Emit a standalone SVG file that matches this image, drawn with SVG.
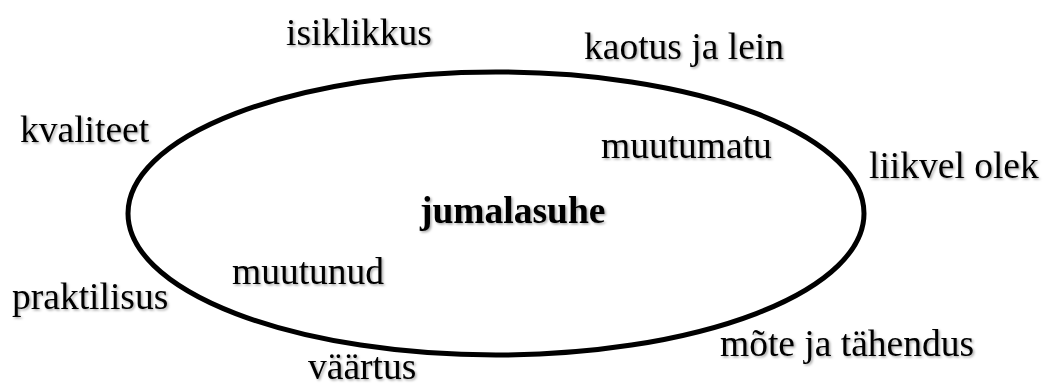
<svg xmlns="http://www.w3.org/2000/svg" width="1045" height="387" viewBox="0 0 1045 387">
  <defs>
    <filter id="sh" x="-10%" y="-30%" width="130%" height="180%">
      <feDropShadow dx="1.5" dy="1.5" stdDeviation="1" flood-color="#000" flood-opacity="0.35"/>
    </filter>
    <style>
      .t { font-family: "Liberation Serif", "Times New Roman", serif; font-size: 37.5px; fill: #000; filter: url(#sh); }
      .b { font-weight: bold; }
      .ell { fill: none; stroke: #000; stroke-width: 5; }
    </style>
  </defs>
  <rect width="1045" height="387" fill="#fff"/>
  <g id="ellipse">
    <ellipse class="ell" cx="496" cy="213.5" rx="368" ry="141.5"/>
  </g>
  <g id="connectors"></g>
  <g id="n-jumalasuhe"><text class="t b" x="420" y="223">jumalasuhe</text></g>
  <g id="n-isiklikkus"><text class="t" x="286" y="45">isiklikkus</text></g>
  <g id="n-kaotus"><text class="t" x="584" y="59">kaotus ja lein</text></g>
  <g id="n-kvaliteet"><text class="t" x="20" y="142">kvaliteet</text></g>
  <g id="n-muutumatu"><text class="t" x="601" y="158">muutumatu</text></g>
  <g id="n-liikvel"><text class="t" x="869" y="178">liikvel olek</text></g>
  <g id="n-muutunud"><text class="t" x="232" y="284">muutunud</text></g>
  <g id="n-praktilisus"><text class="t" x="12" y="309">praktilisus</text></g>
  <g id="n-mote"><text class="t" x="720" y="356">mõte ja tähendus</text></g>
  <g id="n-vaartus"><text class="t" x="308" y="379">väärtus</text></g>
</svg>
